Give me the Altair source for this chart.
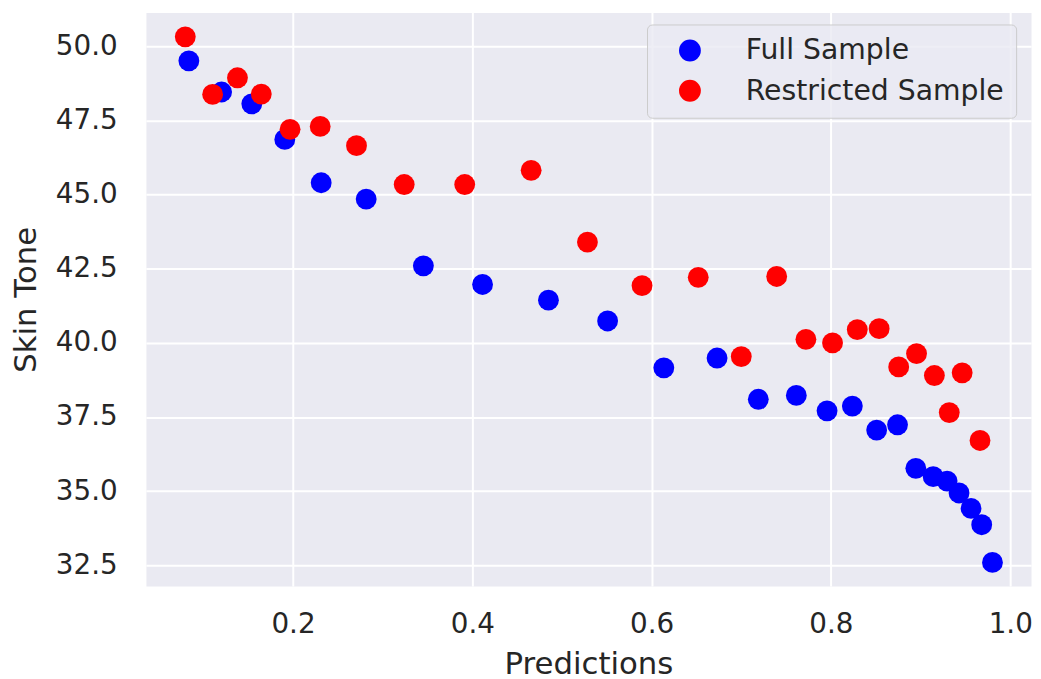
import altair as alt
import pandas as pd

series = ["Full Sample", "Restricted Sample"]
colors = ["#0000ff", "#ff0000"]

full_x = [0.0838, 0.1203, 0.1540, 0.1908, 0.2314, 0.2816, 0.3454, 0.4114, 0.4849,
          0.5509, 0.6136, 0.6730, 0.7190, 0.7614, 0.7957, 0.8239, 0.8510, 0.8743,
          0.8947, 0.9141, 0.9296, 0.9429, 0.9563, 0.9682, 0.9802]
full_y = [49.51, 48.46, 48.06, 46.86, 45.40, 44.85, 42.60, 41.97, 41.44,
          40.74, 39.16, 39.49, 38.10, 38.23, 37.71, 37.87, 37.06, 37.24,
          35.77, 35.49, 35.34, 34.94, 34.42, 33.87, 32.60]

restricted_x = [0.0798, 0.1103, 0.1380, 0.1646, 0.1967, 0.2303, 0.2708, 0.3240, 0.3915,
                0.4656, 0.5284, 0.5893, 0.6520, 0.7000, 0.7395, 0.7721, 0.8018, 0.8294,
                0.8538, 0.8756, 0.8955, 0.9154, 0.9320, 0.9464, 0.9663]
restricted_y = [50.32, 48.38, 48.94, 48.39, 47.20, 47.30, 46.65, 45.34, 45.34,
                45.82, 43.40, 41.93, 42.21, 39.54, 42.24, 40.12, 40.00, 40.45,
                40.48, 39.19, 39.64, 38.90, 37.65, 38.99, 36.71]

x_ticks = [0.2, 0.4, 0.6, 0.8, 1.0]
y_ticks = [32.5, 35.0, 37.5, 40.0, 42.5, 45.0, 47.5, 50.0]

df = pd.DataFrame({
    "Predictions": full_x + restricted_x,
    "Skin Tone": full_y + restricted_y,
    "Sample": [series[0]] * len(full_x) + [series[1]] * len(restricted_x),
})

FONT = "DejaVu Sans"
TXT = "#262626"

chart = alt.Chart(df).mark_circle(size=441, opacity=1).encode(
    x=alt.X(
        "Predictions:Q",
        scale=alt.Scale(domain=[0.0359, 1.0232], nice=False, zero=False),
        axis=alt.Axis(values=x_ticks, format=".1f", title="Predictions",
                      labelPadding=25, titleY=88, titleBaseline="alphabetic",
                      labelFlush=False),
    ),
    y=alt.Y(
        "Skin Tone:Q",
        scale=alt.Scale(domain=[31.80, 51.138], nice=False, zero=False),
        axis=alt.Axis(values=y_ticks, format=".1f", title="Skin Tone",
                      labelPadding=29, titleX=-111, titleBaseline="alphabetic"),
    ),
    color=alt.Color(
        "Sample:N",
        scale=alt.Scale(domain=series, range=colors),
        legend=alt.Legend(
            title=None, orient="none", legendX=505, legendY=12,
            padding=12, symbolOffset=17, labelOffset=42,
            symbolSize=484, symbolType="circle", symbolStrokeWidth=0,
            symbolOpacity=1,
            labelFont=FONT, labelFontSize=28.5, labelColor=TXT, labelLimit=0,
            rowPadding=11.5,
            fillColor="rgba(234,234,242,0.8)", strokeColor="#cccccc",
            cornerRadius=5,
        ),
    ),
).properties(
    width=892, height=578,
    autosize=alt.AutoSizeParams(type="none"),
    padding={"left": 139, "top": 2, "right": 2, "bottom": 90},
    background="white",
).configure_view(
    fill="#EAEAF2", stroke="transparent"
).configure_axis(
    domain=False, ticks=False, tickSize=0, grid=True,
    gridColor="white", gridWidth=2, gridOpacity=1,
    labelFont=FONT, labelFontSize=28, labelColor=TXT, labelOverlap=False,
    titleFont=FONT, titleFontSize=31, titleColor=TXT, titleFontWeight="normal",
)

chart.save("out.html", embed_options={"renderer": "svg", "actions": False})
